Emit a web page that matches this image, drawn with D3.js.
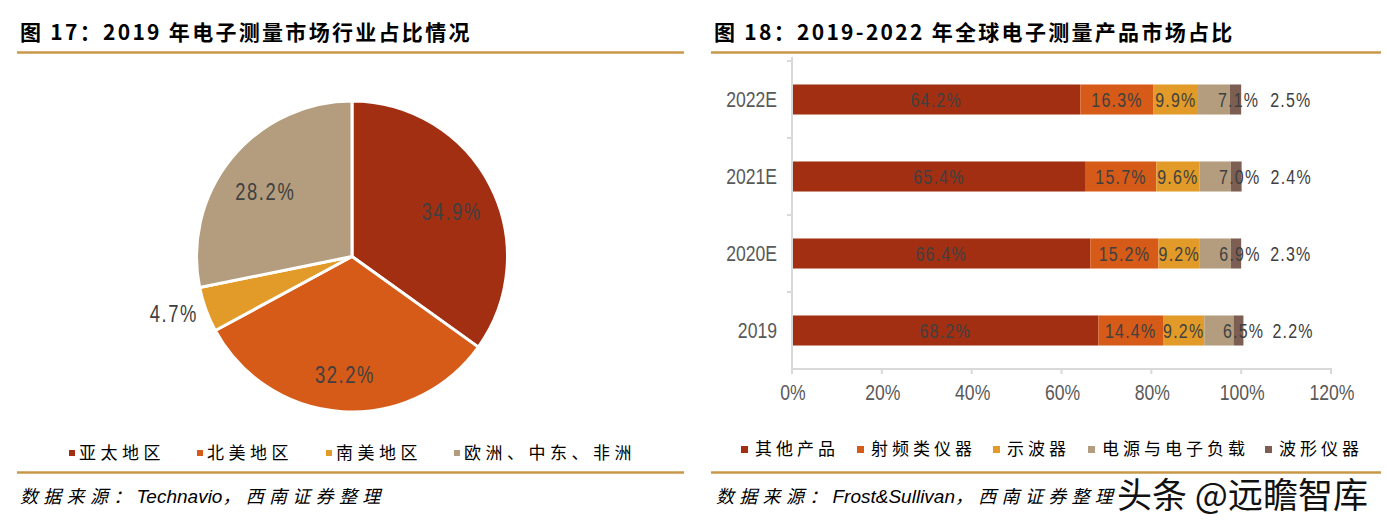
<!DOCTYPE html>
<html><head><meta charset="utf-8">
<script src="https://cdn.jsdelivr.net/npm/d3@7/dist/d3.min.js"></script>
<style>
body{margin:0;background:#fff;}
svg{display:block;}
</style></head>
<body><svg id="c" width="1387" height="528"></svg>
<script>
// ---------- data ----------
const pieTitle = "图 17：2019 年电子测量市场行业占比情况";
const pieCategories = ["亚太地区", "北美地区", "南美地区", "欧洲、中东、非洲"];
const pieValues = [34.9, 32.2, 4.7, 28.2];
const pieSource = ["数据来源：", "Technavio", "，西南证券整理"];

const barTitle = "图 18：2019-2022 年全球电子测量产品市场占比";
const barYears = ["2022E", "2021E", "2020E", "2019"];
const barSeries = ["其他产品", "射频类仪器", "示波器", "电源与电子负载", "波形仪器"];
const seriesOther = [64.2, 65.4, 66.4, 68.2];
const seriesRF = [16.3, 15.7, 15.2, 14.4];
const seriesScope = [9.9, 9.6, 9.2, 9.2];
const seriesPower = [7.1, 7.0, 6.9, 6.5];
const seriesWave = [2.5, 2.4, 2.3, 2.2];
const xTicks = [0, 20, 40, 60, 80, 100, 120];
const barSource = ["数据来源：", "Frost&Sullivan", "，西南证券整理"];
const watermark = "头条 @远瞻智库";

const colors = ["#A32F12", "#D65A18", "#E29A28", "#B39D7E", "#7C5E52"];
const gold = "#C8984A";
const numFont = "'Liberation Sans',Arial,sans-serif";
const cjk = "'Noto Sans CJK SC','Noto Sans',sans-serif";
const SX = 0.8; // horizontal condense of numeric labels

const svg = d3.select("#c");

// condensed numeric text helper
function numText(g, px, py, str, size, anchor, fill, ls) {
  return g.append("text")
    .attr("transform", `translate(${px},${py}) scale(${SX},1)`)
    .attr("text-anchor", anchor).attr("dy", "0.36em")
    .attr("font-family", numFont).attr("font-size", size)
    .attr("letter-spacing", ls || 0).attr("fill", fill).text(str);
}

// ---------- titles & rules ----------
function header(x, x2, text) {
  svg.append("text").attr("x", x).attr("y", 40).text(text)
    .attr("font-family", cjk).attr("font-weight", 700).attr("font-size", 21)
    .attr("letter-spacing", 2.3).attr("fill", "#000");
  svg.append("line").attr("x1", x - 3).attr("x2", x2).attr("y1", 52.5).attr("y2", 52.5)
    .attr("stroke", gold).attr("stroke-width", 2.7);
  svg.append("line").attr("x1", x - 3).attr("x2", x2).attr("y1", 472.5).attr("y2", 472.5)
    .attr("stroke", gold).attr("stroke-width", 2.7);
}
header(20, 684, pieTitle);
header(714, 1381, barTitle);

function source(x, parts) {
  const t = svg.append("text").attr("x", x).attr("y", 503).attr("font-style", "italic").attr("fill", "#000");
  parts.forEach((p, i) => {
    t.append("tspan").text(p)
      .attr("font-family", i === 1 ? "'Liberation Sans',Arial,sans-serif" : cjk)
      .attr("font-size", i === 1 ? 19 : 18)
      .attr("letter-spacing", i === 1 ? 0 : 5.3);
  });
}
source(20, pieSource);
source(716, barSource);

// ---------- pie ----------
const cx = 352, cy = 256.5, R = 155.5;
const pie = d3.pie().sort(null).value(d => d)(pieValues);
const arc = d3.arc().innerRadius(0).outerRadius(R);
const gPie = svg.append("g").attr("transform", `translate(${cx},${cy})`);
gPie.selectAll("path").data(pie).join("path")
  .attr("d", arc).attr("fill", (d, i) => colors[i])
  .attr("stroke", "#fff").attr("stroke-width", 3).attr("stroke-linejoin", "round");
pie.forEach(d => {
  const a = (d.startAngle + d.endAngle) / 2;
  const outside = d.value < 10;
  const r = outside ? R + 34 : R * 0.72;
  const px = Math.sin(a) * r, py = -Math.cos(a) * r + (outside ? -8 : 6);
  numText(gPie, px, py, d.value.toFixed(1) + "%", 23, "middle", "#404040", 2);
});

// pie legend
const pieLegX = [69, 197, 326, 454];
pieCategories.forEach((c, i) => {
  svg.append("rect").attr("x", pieLegX[i]).attr("y", 450).attr("width", 6).attr("height", 6).attr("fill", colors[i]);
  svg.append("text").attr("x", pieLegX[i] + 10).attr("y", 459).text(c)
    .attr("font-family", cjk).attr("font-size", 17).attr("letter-spacing", 4.5).attr("fill", "#000");
});

// ---------- stacked bar ----------
const x = d3.scaleLinear().domain([0, 120]).range([792, 1331]);
const y = d3.scaleBand().domain(barYears).range([61, 369]).paddingInner(0.61).paddingOuter(0.305);
const seriesData = [seriesOther, seriesRF, seriesScope, seriesPower, seriesWave];
const rows = barYears.map((yr, j) => {
  let acc = 0;
  return seriesData.map((s, i) => { const v = s[j]; const seg = {yr, i, v, x0: acc, x1: acc + v}; acc += v; return seg; });
});

const gBar = svg.append("g");
rows.forEach(row => {
  gBar.selectAll(null).data(row).join("rect")
    .attr("x", d => x(d.x0)).attr("width", d => x(d.x1) - x(d.x0))
    .attr("y", d => y(d.yr)).attr("height", y.bandwidth())
    .attr("fill", d => colors[d.i]);
  row.forEach(d => {
    const px = d.i < 3 ? x((d.x0 + d.x1) / 2) : d.i === 3 ? x((d.x0 + d.x1) / 2) + 4 : x(d.x1) + 29;
    numText(gBar, px, y(d.yr) + y.bandwidth() / 2, d.v.toFixed(1) + "%", 20,
      d.i < 3 ? "middle" : "start", "#404040", 1.5);
  });
});

// axes
const axisColor = "#D9D9D9";
const gAx = svg.append("g");
gAx.append("line").attr("x1", x(0)).attr("x2", x(0)).attr("y1", 57).attr("y2", 369)
  .attr("stroke", axisColor).attr("stroke-width", 2);
gAx.append("line").attr("x1", x(0) - 1).attr("x2", x(120) + 1).attr("y1", 369).attr("y2", 369)
  .attr("stroke", axisColor).attr("stroke-width", 2);
const bounds = barYears.map(d => y(d) - y.step() * y.paddingInner() / 2);
bounds.forEach(b => gAx.append("line").attr("x1", x(0) - 5).attr("x2", x(0)).attr("y1", b).attr("y2", b)
  .attr("stroke", axisColor).attr("stroke-width", 2));
xTicks.forEach(t => {
  gAx.append("line").attr("x1", x(t)).attr("x2", x(t)).attr("y1", 369).attr("y2", 374)
    .attr("stroke", axisColor).attr("stroke-width", 2);
  numText(gAx, x(t) + 1, 392, t + "%", 22, "middle", "#595959", 0);
});
barYears.forEach(yr => {
  numText(gAx, 777, y(yr) + y.bandwidth() / 2, yr, 22, "end", "#595959", 0);
});

// bar legend
const barLegX = [741, 857, 993, 1088, 1265];
barSeries.forEach((s, i) => {
  svg.append("rect").attr("x", barLegX[i]).attr("y", 446).attr("width", 7).attr("height", 7).attr("fill", colors[i]);
  svg.append("text").attr("x", barLegX[i] + 14).attr("y", 455).text(s)
    .attr("font-family", cjk).attr("font-size", 17).attr("letter-spacing", 4).attr("fill", "#000");
});

// watermark
svg.append("text").attr("x", 1117).attr("y", 508).text(watermark)
  .attr("font-family", cjk).attr("font-size", 35).attr("fill", "#111")
  .attr("stroke", "#fff").attr("stroke-width", 3).attr("paint-order", "stroke");
</script></body></html>
